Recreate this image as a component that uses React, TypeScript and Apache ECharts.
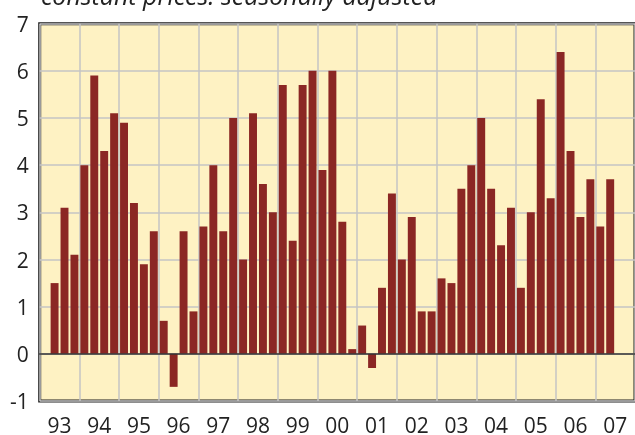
import React, { useEffect, useRef } from "react";
import * as echarts from "echarts";

const years = ["93", "94", "95", "96", "97", "98", "99", "00", "01", "02", "03", "04", "05", "06", "07"];
const quarters = years.flatMap((y) => ["Q1", "Q2", "Q3", "Q4"].map((q) => y + q));
const growth: (number | null)[] = [
  null, 1.5, 3.1, 2.1,
  4.0, 5.9, 4.3, 5.1,
  4.9, 3.2, 1.9, 2.6,
  0.7, -0.7, 2.6, 0.9,
  2.7, 4.0, 2.6, 5.0,
  2.0, 5.1, 3.6, 3.0,
  5.7, 2.4, 5.7, 6.0,
  3.9, 6.0, 2.8, 0.1,
  0.6, -0.3, 1.4, 3.4,
  2.0, 2.9, 0.9, 0.9,
  1.6, 1.5, 3.5, 4.0,
  5.0, 3.5, 2.3, 3.1,
  1.4, 3.0, 5.4, 3.3,
  6.4, 4.3, 2.9, 3.7,
  2.7, 3.7, null, null,
];
const subtitle = "constant prices: seasonally adjusted";

const FONT = "Open Sans";

export default function App() {
  const ref = useRef<HTMLDivElement>(null);
  useEffect(() => {
    if (!ref.current) return;
    const chart = echarts.init(ref.current, null, { renderer: "svg" });
    chart.setOption({
      animation: false,
      grid: {
        left: 39.7,
        top: 23.7,
        right: -9.6,
        bottom: 33.8,
        show: true,
        backgroundColor: "#FEF2C3",
        borderColor: "#1e1e1e",
        borderWidth: 3,
        z: 0,
      },
      graphic: [
        {
          type: "text",
          x: 41,
          y: -5,
          style: {
            text: subtitle,
            fontFamily: FONT,
            fontStyle: "italic",
            fontSize: 25,
            fill: "#222",
            verticalAlign: "middle",
          },
        },
      ],
      xAxis: [
        {
          type: "category",
          data: quarters,
          boundaryGap: true,
          axisLine: { show: true, onZero: true, lineStyle: { color: "#333", width: 1.5 } },
          axisTick: { show: false },
          axisLabel: { show: false },
          splitLine: { show: false },
          z: 5,
        },
        {
          type: "category",
          data: years,
          position: "bottom",
          boundaryGap: true,
          axisLine: { show: false, onZero: false },
          axisTick: { show: false },
          axisLabel: {
            interval: 0,
            margin: 13.5,
            lineHeight: 20,
            fontFamily: FONT,
            fontSize: 21,
            color: "#222",
          },
          splitLine: { show: true, interval: 0, lineStyle: { color: "#C4C4C4", width: 1.5 } },
        },
      ],
      yAxis: {
        type: "value",
        min: -1,
        max: 7,
        interval: 1,
        axisLine: { show: false },
        axisTick: { show: false },
        axisLabel: { margin: 11, fontFamily: FONT, fontSize: 21, color: "#222" },
        splitLine: { show: true, lineStyle: { color: "#C4C4C4", width: 1.5 } },
      },
      series: [
        {
          type: "bar",
          xAxisIndex: 0,
          data: growth,
          barCategoryGap: "20%",
          itemStyle: { color: "#8B2724" },
          z: 3,
        },
      ],
    });
    return () => chart.dispose();
  }, []);
  return (
    <div
      ref={ref}
      style={{ position: "fixed", left: 0, top: 0, width: 635, height: 435 }}
    />
  );
}
